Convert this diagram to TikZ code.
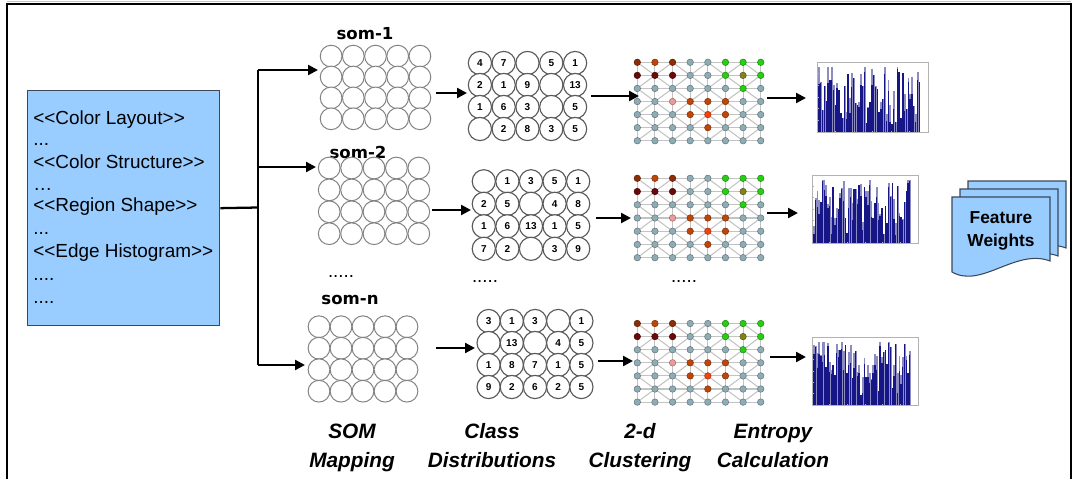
\documentclass[tikz,border=0pt]{standalone}
\usepackage{fontspec}
\setmainfont{Liberation Sans}
\newfontfamily\somfont{DejaVu Sans}
\usetikzlibrary{arrows.meta}

\definecolor{boxblue}{RGB}{153,204,255}
\definecolor{boxedge}{RGB}{60,72,88}
\definecolor{cellgray}{RGB}{130,130,130}
\definecolor{celldark}{RGB}{90,90,90}
\definecolor{nodegray}{RGB}{143,172,180}
\definecolor{linkgray}{RGB}{195,195,195}
\definecolor{cbrown}{RGB}{140,45,10}
\definecolor{corange}{RGB}{190,70,10}
\definecolor{cdark}{RGB}{105,10,10}
\definecolor{cgreen}{RGB}{40,205,20}
\definecolor{cmix}{RGB}{130,130,30}
\definecolor{cred}{RGB}{245,65,10}
\definecolor{cpink}{RGB}{235,155,155}
\definecolor{cnavy}{RGB}{22,22,135}
\definecolor{clav}{RGB}{140,140,195}

% doubled angle brackets without the TeX ligature mapping
\newcommand\dlt{<\kern0pt<}
\newcommand\dgt{>\kern0pt>}

% 5 x 4 grid of SOM cells: name, first centre x, y, pitch x, pitch y, style
\newcommand\somgrid[6]{%
  \foreach \r in {0,...,3}{\foreach \c in {0,...,4}{%
    \node[#6] (#1-\r-\c) at ({#2+\c*#4},{#3+\r*#5}) {};}}}

% 5 x 4 grid of cells with class counts
\newcommand\classgrid[6]{%
  \foreach \v [count=\k from 0] in {#6}{%
    \pgfmathtruncatemacro\r{floor(\k/5)}%
    \pgfmathtruncatemacro\c{mod(\k,5)}%
    \node[classcell] (#1-\r-\c) at ({#2+\c*#4},{#3+\r*#5}) {\v};}}

% 8 x 7 clustering lattice: name, first centre x, y, pitch y
\newcommand\clustgrid[4]{%
  \foreach \r in {0,...,6}{\foreach \c in {0,...,7}{%
    \coordinate (#1-\r-\c) at ({#2+\c*17.63},{#3+\r*#4});}}
  \foreach \r in {0,...,6}{\foreach \c in {0,...,6}{%
    \pgfmathtruncatemacro\cn{\c+1}%
    \draw[link] (#1-\r-\c) -- (#1-\r-\cn);}}
  \foreach \r in {0,...,5}{\pgfmathtruncatemacro\rn{\r+1}%
    \foreach \c in {0,...,7}{\draw[link] (#1-\r-\c) -- (#1-\rn-\c);}}
  \foreach \r in {0,...,5}{\pgfmathtruncatemacro\rn{\r+1}%
    \foreach \c in {0,...,6}{%
      \pgfmathtruncatemacro\cn{\c+1}%
      \pgfmathtruncatemacro\pty{mod(\r+\c,2)}%
      \ifnum\pty=0 \draw[link] (#1-\r-\c) -- (#1-\rn-\cn);
      \else \draw[link] (#1-\r-\cn) -- (#1-\rn-\c);\fi}}
  \foreach \row [count=\r from 0] in {%
      {cbrown,corange,cbrown,nodegray,nodegray,cgreen,cgreen,cgreen},
      {cdark,cdark,cdark,nodegray,nodegray,cgreen,cmix,cgreen},
      {nodegray,nodegray,nodegray,nodegray,nodegray,nodegray,cgreen,nodegray},
      {nodegray,nodegray,cpink,corange,corange,corange,nodegray,nodegray},
      {nodegray,nodegray,nodegray,corange,cred,corange,nodegray,nodegray},
      {nodegray,nodegray,nodegray,nodegray,corange,nodegray,nodegray,nodegray},
      {nodegray,nodegray,nodegray,nodegray,nodegray,nodegray,nodegray,nodegray}}{%
    \foreach \col [count=\c from 0] in \row {%
      \node[lnode,fill=\col,draw=\col!70!black] (#1-n-\r-\c) at (#1-\r-\c) {};}}}

% entropy bar plot: left x, top y, width, height, seed
\newcommand\histo[5]{%
  \pgfmathsetseed{#5}%
  \pgfmathsetmacro\st{0.92*#3/56}%
  \pgfmathsetmacro\bw{0.8*\st}%
  \foreach \i in {0,...,55}{%
    \pgfmathsetmacro\hh{(0.12+0.86*rnd^0.8)*#4*0.93}%
    \pgfmathsetmacro\lv{min(#4*0.93,\hh+#4*0.3*rnd*(rnd>0.35))}%
    \pgfmathsetmacro\xx{#1+1.2+\i*\st}%
    \fill[clav] (\xx,#2+#4) rectangle ++(\st,-\lv);
    \fill[cnavy] (\xx,#2+#4) rectangle ++(\bw,-\hh);}
  \draw[gray!60,line width=0.3pt] (#1,#2) rectangle ++(#3,#4);
  \foreach \t in {0,...,6}{\draw[gray!60,line width=0.3pt] (#1,{#2+\t*#4/6}) -- ++(1.5,0);}
  \foreach \t in {0,...,6}{\draw[gray!60,line width=0.3pt] ({#1+\t*#3/6},#2+#4) -- ++(0,-1.5);}}

% stacked document sheet with a wavy lower edge
\newcommand\docsheet[4]{%
  \draw[docstyle] (#1,#2) -- ({#1+#3},#2) -- ({#1+#3},{#4-11})
    .. controls ({#1+0.65*#3},{#4-24}) and ({#1+0.3*#3},{#4+17}) .. (#1,#4) -- cycle;}

\begin{document}
\begin{tikzpicture}[x=0.75pt,y=-0.75pt,
  featbox/.style={draw=boxedge,fill=boxblue,line width=1pt,inner sep=0pt},
  boxtext/.style={anchor=base west,inner sep=0pt,font=\fontsize{14.2}{16}\selectfont},
  somcell/.style={circle,draw=cellgray,fill=white,line width=0.75pt,minimum size=16.3pt,inner sep=0pt},
  classcell/.style={circle,draw=celldark,fill=white,line width=0.85pt,minimum size=17.4pt,inner sep=0pt,
    font=\bfseries\fontsize{7.5}{8}\selectfont},
  somlabel/.style={inner sep=0pt,font=\somfont\bfseries\fontsize{12.4}{14}\selectfont},
  dots/.style={inner sep=0pt,font=\fontsize{14}{16}\selectfont},
  link/.style={draw=linkgray,line width=0.8pt},
  lnode/.style={circle,minimum size=4.9pt,inner sep=0pt,line width=0.4pt},
  flow/.style={line width=1.7pt},
  arr/.style={line width=1.7pt,-{Triangle[length=7.5pt,width=7.5pt]}},
  docstyle/.style={draw=boxedge,fill=boxblue,line width=0.8pt},
  steplabel/.style={align=center,inner sep=0pt,font=\bfseries\itshape\fontsize{15.6}{21.75}\selectfont},
]
\useasboundingbox (0,0) rectangle (1077,479);

% frame
\draw[gray!45,line width=1pt] (7,1.5) -- (1071,1.5);
\draw[line width=1.1pt] (7,479) -- (7,4) -- (1071,4) -- (1071,479);

% descriptor list
\node[featbox,anchor=north west,minimum width=144pt,minimum height=176.25pt] (feat) at (27,90) {};
\node[boxtext] (l1) at (33,124) {\dlt Color Layout\dgt};
\node[boxtext] (l2) at (33,145) {...};
\node[boxtext] (l3) at (33,168) {\dlt Color Structure\dgt};
\node[boxtext] (l4) at (33,190) {…};
\node[boxtext] (l5) at (33,211) {\dlt Region Shape\dgt};
\node[boxtext] (l6) at (33,234) {...};
\node[boxtext] (l7) at (33,257) {\dlt Edge Histogram\dgt};
\node[boxtext] (l8) at (33,280) {....};
\node[boxtext] (l9) at (33,303) {....};

% self-organising maps
\node[somlabel] (som1) at (365,34) {som-1};
\node[somlabel] (som2) at (358,152) {som-2};
\node[somlabel] (somn) at (350,300) {som-n};
\node[dots] (sdots) at (341,276) {.....};
\somgrid{sa}{331.1}{56.1}{22.2}{20.9}{somcell}
\somgrid{sb}{329.2}{168}{22.4}{21.9}{somcell}
\somgrid{sc}{319}{326.7}{22}{21.5}{somcell}

% class distributions
\classgrid{ca}{479.9}{63}{23.8}{22}{4,7,{},5,1, 2,1,9,{},13, 1,6,3,{},5, {},2,8,3,5}
\classgrid{cb}{483.8}{181.3}{23.6}{22.5}{{},1,3,5,1, 2,5,{},4,8, 1,6,13,1,5, 7,2,{},3,9}
\classgrid{cc}{488.6}{321}{23.2}{22}{3,1,3,{},1, {},13,{},4,5, 1,8,7,1,5, 9,2,6,2,5}
\node[dots] (cdots) at (485,281) {.....};

% 2-d clustering lattices
\clustgrid{ka}{637.3}{62.3}{13.07}
\clustgrid{kb}{637.3}{178.3}{13.23}
\clustgrid{kc}{637.3}{323.5}{13.1}
\node[dots] (kdots) at (684,281) {.....};

% entropy plots
\histo{817}{62}{111}{70}{11}
\histo{812}{175}{106}{68}{23}
\histo{812}{337}{106}{68}{37}

% feature weights
\docsheet{968}{181}{98}{259}
\docsheet{960}{189}{98}{267}
\docsheet{952}{197}{98}{272}
\node[align=center,inner sep=0pt,font=\bfseries\fontsize{13}{17}\selectfont] (fw) at (1001,231) {Feature\\Weights};

% flow from the descriptors to the maps
\coordinate (split) at (258,207.5);
\coordinate (btop) at (258,70);
\coordinate (bmid) at (258,167);
\coordinate (bbot) at (258,365);
\coordinate (ina) at (318,70);
\coordinate (inb) at (316,167);
\coordinate (inc) at (305,365);
\draw[flow] (feat.east) -- (split);
\draw[flow] (btop) -- (bbot);
\draw[arr] (btop) -- (ina);
\draw[arr] (bmid) -- (inb);
\draw[arr] (bbot) -- (inc);

% flow along each row
\coordinate (a1) at (436,93);  \coordinate (a2) at (467,93);
\coordinate (a3) at (591,96);  \coordinate (a4) at (639,96);
\coordinate (a5) at (767,98);  \coordinate (a6) at (806,98);
\coordinate (b1) at (432,210); \coordinate (b2) at (471,210);
\coordinate (b3) at (596,218); \coordinate (b4) at (631,218);
\coordinate (b5) at (767,213); \coordinate (b6) at (798,213);
\coordinate (c1) at (436,348); \coordinate (c2) at (475,348);
\coordinate (c3) at (598,361); \coordinate (c4) at (633,361);
\coordinate (c5) at (770,357); \coordinate (c6) at (806,357);
\foreach \p/\q in {a1/a2,a3/a4,a5/a6,b1/b2,b3/b4,b5/b6,c1/c2,c3/c4,c5/c6}
  \draw[arr] (\p) -- (\q);

% stage captions (base anchor sits on the second line)
\node[steplabel,anchor=base] (t1) at (352,467) {SOM\\Mapping};
\node[steplabel,anchor=base] (t2) at (492,467) {Class\\Distributions};
\node[steplabel,anchor=base] (t3) at (640,467) {2-d\\Clustering};
\node[steplabel,anchor=base] (t4) at (773,467) {Entropy\\Calculation};
\end{tikzpicture}
\end{document}
